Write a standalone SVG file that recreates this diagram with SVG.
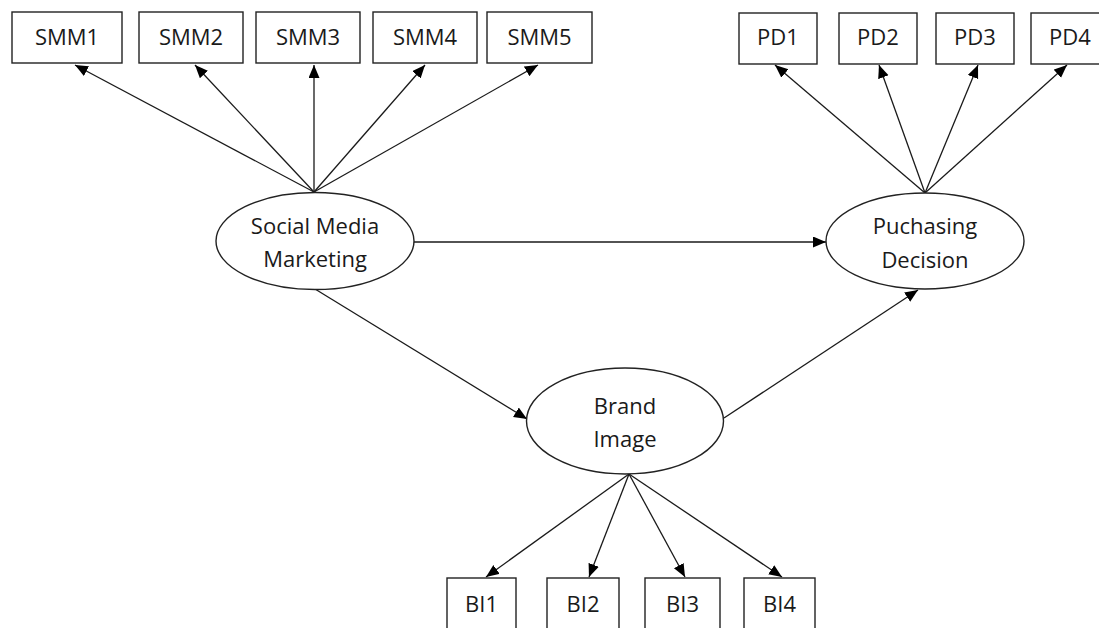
<svg xmlns="http://www.w3.org/2000/svg" width="1099" height="628" viewBox="0 0 1099 628">
<defs>
<style>
.box{fill:#fff;stroke:#222;stroke-width:1.4}
.ell{fill:#fff;stroke:#222;stroke-width:1.4}
.t{font-family:"Open Sans","Liberation Sans",sans-serif;font-size:22px;fill:#1a1a1a;text-anchor:middle}
.c{stroke:#1a1a1a;stroke-width:1.3;fill:none;marker-end:url(#ah)}
</style>
<marker id="ah" markerUnits="userSpaceOnUse" markerWidth="14" markerHeight="12" refX="13" refY="5.5" orient="auto">
<path d="M0,0 L13,5.5 L0,11 z" fill="#000"/>
</marker>
</defs>
<rect width="1099" height="628" fill="#fff"/>
<g id="connectors">
<line class="c" x1="314" y1="192" x2="75" y2="65"/>
<line class="c" x1="314" y1="192" x2="195" y2="65"/>
<line class="c" x1="314" y1="192" x2="314" y2="65"/>
<line class="c" x1="314" y1="192" x2="425" y2="65"/>
<line class="c" x1="314" y1="192" x2="538" y2="65"/>
<line class="c" x1="925" y1="193" x2="775" y2="65"/>
<line class="c" x1="925" y1="193" x2="879" y2="65"/>
<line class="c" x1="925" y1="193" x2="978" y2="65"/>
<line class="c" x1="925" y1="193" x2="1067" y2="65"/>
<line class="c" x1="413" y1="242" x2="826" y2="242"/>
<line class="c" x1="315" y1="289" x2="527" y2="419"/>
<line class="c" x1="724" y1="418" x2="918" y2="290"/>
<line class="c" x1="629" y1="474" x2="486" y2="577"/>
<line class="c" x1="629" y1="474" x2="589" y2="577"/>
<line class="c" x1="629" y1="474" x2="685" y2="577"/>
<line class="c" x1="629" y1="474" x2="782" y2="577"/>
</g>
<g id="SMM1"><rect class="box" x="12" y="12" width="110" height="51"/><text class="t" x="67" y="45">SMM1</text></g>
<g id="SMM2"><rect class="box" x="139" y="12" width="104" height="51"/><text class="t" x="191" y="45">SMM2</text></g>
<g id="SMM3"><rect class="box" x="256" y="12" width="104" height="51"/><text class="t" x="308" y="45">SMM3</text></g>
<g id="SMM4"><rect class="box" x="373" y="12" width="104" height="51"/><text class="t" x="425" y="45">SMM4</text></g>
<g id="SMM5"><rect class="box" x="487" y="12" width="105" height="51"/><text class="t" x="539.5" y="45">SMM5</text></g>
<g id="PD1"><rect class="box" x="739" y="13" width="78" height="51"/><text class="t" x="778" y="45">PD1</text></g>
<g id="PD2"><rect class="box" x="839" y="13" width="78" height="51"/><text class="t" x="878" y="45">PD2</text></g>
<g id="PD3"><rect class="box" x="936" y="13" width="78" height="51"/><text class="t" x="975" y="45">PD3</text></g>
<g id="PD4"><rect class="box" x="1031" y="13" width="78" height="51"/><text class="t" x="1070" y="45">PD4</text></g>
<g id="SMM"><ellipse class="ell" cx="315" cy="241" rx="99" ry="48.5"/><text class="t" x="315" y="234">Social Media</text><text class="t" x="315" y="267">Marketing</text></g>
<g id="PD"><ellipse class="ell" cx="925" cy="241" rx="99" ry="48"/><text class="t" x="925" y="234">Puchasing</text><text class="t" x="925" y="268">Decision</text></g>
<g id="BI"><ellipse class="ell" cx="625" cy="421" rx="98.5" ry="53"/><text class="t" x="625" y="414">Brand</text><text class="t" x="625" y="447">Image</text></g>
<g id="BI1"><rect class="box" x="447" y="578" width="69" height="52"/><text class="t" x="481.5" y="612">BI1</text></g>
<g id="BI2"><rect class="box" x="547" y="578" width="72" height="52"/><text class="t" x="583" y="612">BI2</text></g>
<g id="BI3"><rect class="box" x="645" y="578" width="75" height="52"/><text class="t" x="682.5" y="612">BI3</text></g>
<g id="BI4"><rect class="box" x="744" y="578" width="71" height="52"/><text class="t" x="779.5" y="612">BI4</text></g>
</svg>
